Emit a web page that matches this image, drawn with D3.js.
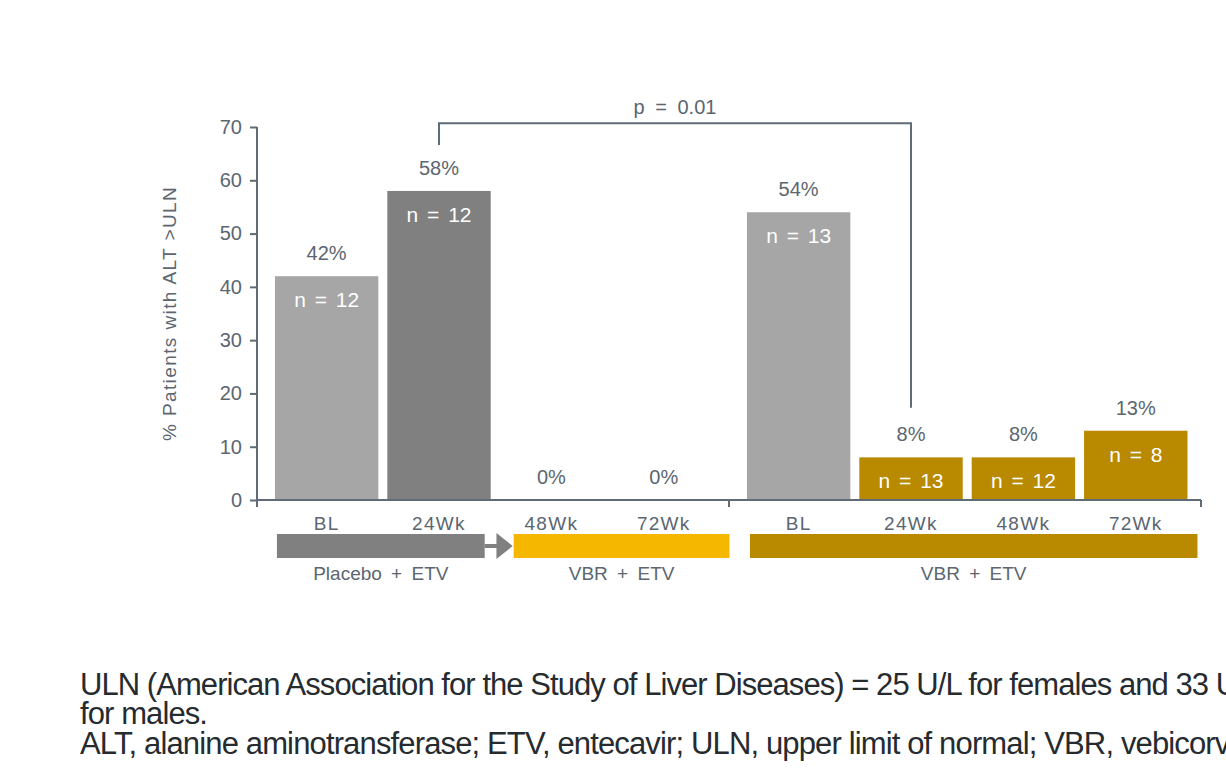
<!DOCTYPE html>
<html>
<head>
<meta charset="utf-8">
<script src="https://cdn.jsdelivr.net/npm/d3@7"></script>
<style>
  html, body { margin: 0; padding: 0; background: #ffffff; }
  svg { display: block; font-family: "Liberation Sans", Arial, sans-serif; }
</style>
</head>
<body>
<svg id="chart" width="1226" height="775"></svg>
<script>
// ---- data ----
const arms = ["Placebo + ETV → VBR + ETV", "VBR + ETV"];
const timepoints = ["BL", "24Wk", "48Wk", "72Wk"];
const switchArmPct = [42, 58, 0, 0];
const switchArmN = [12, 12, null, null];
const vbrArmPct = [54, 8, 8, 13];
const vbrArmN = [13, 13, 12, 8];
const yTicks = [0, 10, 20, 30, 40, 50, 60, 70];
const treatmentLabels = ["Placebo + ETV", "VBR + ETV", "VBR + ETV"];
const pValueLabel = "p = 0.01";
const yTitle = "% Patients with ALT >ULN";
const footnotes = [
  "ULN (American Association for the Study of Liver Diseases) = 25 U/L for females and 33 U/L",
  "for males.",
  "ALT, alanine aminotransferase; ETV, entecavir; ULN, upper limit of normal; VBR, vebicorvir."
];

// ---- styling ----
const textGrey = "#5b6670";
const axisGrey = "#5f6b76";
const lightGrey = "#a6a6a6";
const darkGrey = "#808080";
const gold = "#b98900";
const yellow = "#f5b700";

const svg = d3.select("#chart");

const y = d3.scaleLinear().domain([0, 70]).range([500, 127]);
const outer = d3.scaleBand().domain(arms).range([257, 1201]);
const inner = d3.scaleBand().domain(timepoints).range([0, outer.bandwidth()])
  .paddingInner(0.08).paddingOuter(0.14).align(0.57);
const bw = inner.bandwidth();

const rows = [];
arms.forEach((arm, ai) => {
  const pct = ai === 0 ? switchArmPct : vbrArmPct;
  const ns = ai === 0 ? switchArmN : vbrArmN;
  timepoints.forEach((tp, ti) => {
    let fill;
    if (ti === 0) fill = lightGrey;
    else if (ai === 0) fill = darkGrey;
    else fill = gold;
    rows.push({ arm, tp, value: pct[ti], n: ns[ti], fill,
      x: outer(arm) + inner(tp) });
  });
});

// ---- bars ----
svg.append("g").selectAll("rect").data(rows.filter(d => d.value > 0)).join("rect")
  .attr("x", d => d.x).attr("width", bw)
  .attr("y", d => y(d.value)).attr("height", d => y(0) - y(d.value))
  .attr("fill", d => d.fill);

// value labels above bars
svg.append("g").selectAll("text").data(rows).join("text")
  .attr("x", d => d.x + bw / 2).attr("y", d => y(d.value) - 16)
  .attr("text-anchor", "middle").attr("font-size", 20).attr("fill", textGrey)
  .text(d => d.value + "%");

// n labels inside bars
svg.append("g").selectAll("text").data(rows.filter(d => d.n != null)).join("text")
  .attr("x", d => d.x + bw / 2).attr("y", d => y(d.value) + 31)
  .attr("text-anchor", "middle").attr("font-size", 21).attr("fill", "#ffffff")
  .attr("word-spacing", 3)
  .text(d => "n = " + d.n);

// ---- y axis ----
const yAxis = svg.append("g").attr("transform", "translate(257,0)")
  .call(d3.axisLeft(y).tickValues(yTicks).tickSize(7).tickPadding(8));
yAxis.select(".domain").attr("stroke", axisGrey).attr("stroke-width", 2)
  .attr("d", `M0,${y(70)}V${y(0)}`);
yAxis.selectAll(".tick line").attr("stroke", axisGrey).attr("stroke-width", 2);
yAxis.selectAll(".tick text").attr("font-size", 20).attr("fill", textGrey)
  .attr("font-family", "Liberation Sans, Arial, sans-serif");

svg.append("text")
  .attr("transform", `translate(176,${(y(0) + y(70)) / 2}) rotate(-90)`)
  .attr("text-anchor", "middle").attr("font-size", 19).attr("fill", textGrey)
  .attr("letter-spacing", 1.4)
  .text(yTitle);

// ---- x axis ----
const xAxisG = svg.append("g");
const xLeft = outer.range()[0], xRight = outer.range()[1];
xAxisG.append("path")
  .attr("d", `M${xLeft},${y(0)}H${xRight}`)
  .attr("stroke", axisGrey).attr("stroke-width", 2).attr("fill", "none");
const sepX = [xLeft, outer(arms[1]), xRight];
xAxisG.selectAll("line.sep").data(sepX).join("line")
  .attr("x1", d => d).attr("x2", d => d)
  .attr("y1", y(0)).attr("y2", y(0) + 7)
  .attr("stroke", axisGrey).attr("stroke-width", 2);
xAxisG.selectAll("text").data(rows).join("text")
  .attr("x", d => d.x + bw / 2).attr("y", y(0) + 30)
  .attr("text-anchor", "middle").attr("font-size", 19).attr("fill", textGrey)
  .attr("letter-spacing", 1.3)
  .text(d => d.tp);

// ---- treatment bands ----
const bandTop = y(0) + 34, bandH = 24;
const g1 = outer(arms[0]), g2 = outer(arms[1]);
const bands = [
  { x0: g1 + inner("BL") + 2, x1: g1 + inner("24Wk") + bw - 6, fill: darkGrey, label: treatmentLabels[0] },
  { x0: g1 + inner("48Wk") + 14, x1: g1 + inner("72Wk") + bw + 14, fill: yellow, label: treatmentLabels[1] },
  { x0: g2 + inner("BL") + 3, x1: g2 + inner("72Wk") + bw + 10, fill: gold, label: treatmentLabels[2] }
];
svg.append("g").selectAll("rect").data(bands).join("rect")
  .attr("x", d => d.x0).attr("width", d => d.x1 - d.x0)
  .attr("y", bandTop).attr("height", bandH).attr("fill", d => d.fill);
svg.append("g").selectAll("text").data(bands).join("text")
  .attr("x", d => (d.x0 + d.x1) / 2).attr("y", bandTop + bandH + 22)
  .attr("text-anchor", "middle").attr("font-size", 19).attr("fill", textGrey)
  .attr("word-spacing", 4)
  .text(d => d.label);

// arrow linking placebo phase to open-label VBR phase
const arrStart = bands[0].x1, arrTip = bands[1].x0 - 1;
const midY = bandTop + bandH / 2;
svg.append("rect").attr("x", arrStart).attr("y", midY - 2)
  .attr("width", (arrTip - arrStart) * 0.45).attr("height", 4).attr("fill", darkGrey);
svg.append("path")
  .attr("d", `M${arrStart + (arrTip - arrStart) * 0.42},${bandTop - 1}L${arrTip},${midY}L${arrStart + (arrTip - arrStart) * 0.42},${bandTop + bandH + 1}Z`)
  .attr("fill", darkGrey);

// ---- significance bracket ----
const bxL = g1 + inner("24Wk") + bw / 2;
const bxR = g2 + inner("24Wk") + bw / 2;
svg.append("path")
  .attr("d", `M${bxL},${y(66.6)}V${y(70.7)}H${bxR}V${y(17.3)}`)
  .attr("fill", "none").attr("stroke", axisGrey).attr("stroke-width", 2);
svg.append("text")
  .attr("x", (bxL + bxR) / 2).attr("y", y(70.7) - 9)
  .attr("text-anchor", "middle").attr("font-size", 20).attr("fill", textGrey)
  .attr("word-spacing", 5)
  .text(pValueLabel);

// ---- footnotes (condensed tracking) ----
const fnSize = 31;
const fnLines = [
  { text: footnotes[0], y: 695, fit: "ULN (American Association for the Study of Liver Diseases) = 25 U/L for females and 33", end: 1209 },
  { text: footnotes[1], y: 724, fit: null },
  { text: footnotes[2], y: 754, fit: "ALT, alanine aminotransferase; ETV, entecavir; ULN, upper limit of normal; VBR,", end: 1114 }
];
const probe = svg.append("text").attr("font-size", fnSize).attr("visibility", "hidden");
fnLines.forEach(l => {
  if (!l.fit) return;
  probe.text(l.fit);
  const natural = probe.node().getComputedTextLength();
  l.spacing = (l.end - 80 - natural) / (l.fit.length - 1);
});
probe.remove();
const meanSpacing = d3.mean(fnLines.filter(l => l.fit), l => l.spacing);
svg.append("g").selectAll("text").data(fnLines).join("text")
  .attr("x", 80).attr("y", d => d.y)
  .attr("font-size", fnSize).attr("fill", "#262b30")
  .attr("letter-spacing", d => (d.fit ? d.spacing : meanSpacing) + "px")
  .text(d => d.text);
</script>
</body>
</html>
